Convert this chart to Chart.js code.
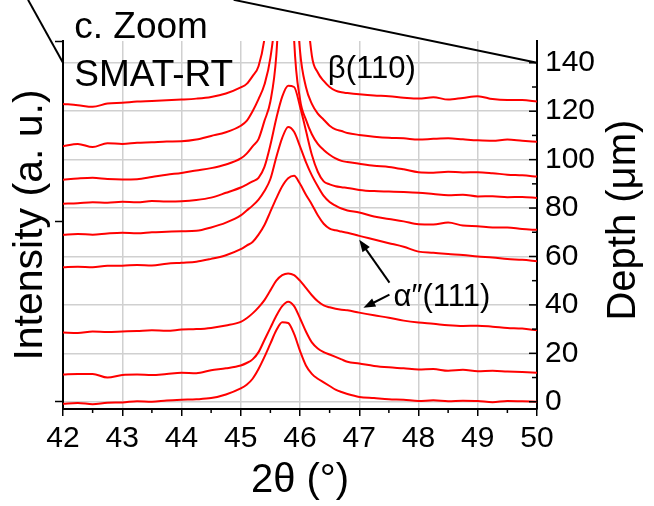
<!DOCTYPE html>
<html>
<head>
<meta charset="utf-8">
<script src="https://cdn.jsdelivr.net/npm/chart.js@4.4.1/dist/chart.umd.min.js"></script>
<style>
  body { margin: 0; background: #fff; }
  #wrap { width: 654px; height: 506px; position: relative; }
</style>
</head>
<body>
<div id="wrap"><canvas id="xrd"></canvas></div>
<script>
// 2theta positions (deg), finer around the peak
const twoTheta = [42, 42.25, 42.5, 42.75, 43, 43.25, 43.5, 43.75, 44, 44.25, 44.5, 44.75, 45,
    45.1, 45.2, 45.3, 45.4, 45.5, 45.6, 45.7, 45.8, 45.9, 46, 46.1, 46.2, 46.3, 46.4, 46.5, 46.6, 46.7, 46.8,
    47, 47.25, 47.5, 47.75, 48, 48.25, 48.5, 48.75, 49, 49.25, 49.5, 49.75, 50];

// scans stacked at their depth (um), bottom to top
const scan0 = [-0.8, -0.5, -1.0, -0.4, -0.3, 0.2, 0.0, 0.5, 0.8, 1.0, 1.5, 3.0, 5.5,
    7.0, 9.5, 13.5, 18.5, 24.0, 29.5, 32.8, 32.5, 28.0, 21.0, 15.0, 11.5, 9.5, 8.0, 6.5, 5.0, 4.0, 3.2,
    2.0, 1.5, 1.0, 0.8, 0.3, 0.6, 0.2, 0.4, 0.3, -0.2, 0.3, 0.2, 0.0];
const scan13 = [11.2, 11.5, 11.5, 10.0, 11.0, 11.2, 11.0, 11.5, 12.0, 11.8, 13.0, 13.8, 15.0,
    16.0, 17.5, 20.5, 25.5, 30.5, 35.5, 39.5, 41.3, 39.5, 34.5, 29.0, 24.5, 22.0, 20.5, 19.5, 18.5, 17.5, 16.5,
    15.8, 14.8, 14.2, 13.8, 13.3, 13.5, 12.8, 13.2, 12.6, 12.8, 12.5, 12.3, 12.0];
const scan30 = [28.6, 28.4, 29.0, 28.8, 29.0, 29.2, 29.5, 29.3, 29.8, 30.0, 30.5, 31.5, 33.0,
    34.5, 36.5, 39.0, 42.0, 46.0, 50.0, 52.3, 53.0, 52.3, 50.0, 47.0, 44.0, 41.5, 39.8, 39.0, 38.4, 38.0, 37.8,
    36.8, 35.7, 34.7, 33.5, 32.7, 32.2, 31.6, 31.3, 31.4, 31.0, 30.5, 30.2, 29.5];
const scan57 = [55.5, 55.8, 55.6, 56.2, 56.2, 56.5, 56.3, 57.0, 57.4, 57.8, 59.0, 60.5, 63.0,
    64.5, 66.0, 69.0, 73.0, 78.5, 84.0, 89.0, 92.3, 93.3, 90.0, 85.5, 81.5, 77.0, 73.5, 71.5, 70.8, 70.3, 69.8,
    68.5, 67.0, 65.5, 64.0, 62.0, 61.5, 61.0, 60.6, 60.0, 59.6, 59.0, 58.6, 58.0];
const scan70 = [69.0, 69.3, 69.0, 69.5, 69.8, 69.6, 70.0, 70.2, 70.4, 70.6, 72.0, 74.0, 77.0,
    79.0, 81.0, 83.5, 87.0, 92.0, 101.0, 109.0, 113.5, 111.5, 105.5, 99.0, 93.5, 89.0, 85.0, 82.5, 81.0, 79.8, 79.0,
    78.2, 76.5, 75.5, 74.5, 73.3, 73.2, 74.0, 72.8, 72.5, 72.0, 72.0, 71.3, 71.0];
const scan83 = [81.8, 82.0, 82.4, 82.2, 82.6, 82.4, 82.9, 82.7, 82.8, 83.3, 84.3, 86.3, 88.5,
    89.7, 91.0, 92.5, 97.0, 106.0, 117.0, 126.0, 130.5, 130.0, 122.0, 112.0, 102.0, 95.0, 91.0, 89.8, 89.0, 88.6, 88.3,
    87.5, 87.0, 86.8, 86.6, 86.3, 85.8, 85.3, 85.5, 84.8, 84.9, 84.5, 84.6, 84.2];
const scan92 = [91.7, 92.2, 92.5, 92.0, 91.8, 91.9, 92.8, 93.8, 94.5, 95.5, 96.5, 98.0, 100.5,
    102.5, 105.5, 108.5, 116.0, 124.0, 143.0, 190.0, 230.0, 150.0, 125.0, 116.5, 110.5, 106.5, 104.0, 102.0, 100.5, 99.5, 99.0,
    98.3, 97.5, 97.0, 96.0, 94.8, 94.6, 95.0, 94.7, 94.8, 94.4, 93.8, 93.5, 93.0];
const scan106 = [105.5, 106.5, 105.2, 106.8, 106.5, 107.0, 107.2, 107.5, 107.6, 108.3, 109.8, 111.3, 114.0,
    116.0, 120.0, 125.0, 131.0, 142.0, 165.0, 220.0, 260.0, 185.0, 145.0, 130.0, 123.0, 119.0, 116.5, 114.0, 112.5, 111.8, 111.0,
    110.2, 109.5, 109.0, 108.8, 108.3, 108.6, 108.8, 108.4, 108.0, 107.8, 108.3, 107.8, 107.4];
const scan123 = [123.0, 122.5, 121.8, 123.2, 123.5, 124.0, 124.2, 124.5, 124.8, 125.2, 125.9, 127.3, 129.8,
    131.3, 134.5, 138.6, 150.0, 175.0, 220.0, 280.0, 300.0, 280.0, 220.0, 170.0, 143.0, 136.0, 132.5, 130.0, 128.5, 127.8, 127.5,
    127.0, 126.5, 126.2, 125.6, 125.2, 125.8, 124.8, 125.5, 126.2, 125.0, 124.6, 124.6, 124.0];

const scans = [scan0, scan13, scan30, scan57, scan70, scan83, scan92, scan106, scan123];

const depthTicks = [0, 20, 40, 60, 80, 100, 120, 140];
const depthMinor = [10, 30, 50, 70, 90, 110, 130];
const intensityTicks = [0, 74.5, 149];
const thetaMinor = [42.5, 43.5, 44.5, 45.5, 46.5, 47.5, 48.5, 49.5];

const FONT = "'Liberation Sans', Arial, sans-serif";
Chart.defaults.font.family = FONT;
Chart.defaults.color = '#000';

// annotations, in data units
const notes = [
    { text: 'c. Zoom', x: 42.19, y: 150.4, size: 37 },
    { text: 'SMAT-RT', x: 42.19, y: 130.6, size: 37 },
    { text: 'β(110)', x: 46.47, y: 133.9, size: 31 },
    { text: 'α″(111)', x: 47.58, y: 39.7, size: 31 }
];
const arrows = [
    { from: [47.51, 49.2], to: [47.0, 66.9] },
    { from: [47.51, 44.2], to: [47.07, 38.8] }
];
const zoomLines = [
    { from: [41.41, 166], to: [42, 140] },
    { from: [44.88, 166], to: [50, 140] }
];

const decorations = {
    id: 'decorations',
    afterDraw(chart) {
        const ctx = chart.ctx;
        const xs = chart.scales.x, ys = chart.scales.y;
        const area = chart.chartArea;
        ctx.save();
        ctx.strokeStyle = '#000';
        ctx.fillStyle = '#000';
        ctx.lineWidth = 1.5;

        // minor ticks on 2theta axis (outward)
        thetaMinor.forEach(v => {
            const px = xs.getPixelForValue(v);
            ctx.beginPath();
            ctx.moveTo(px, area.bottom);
            ctx.lineTo(px, area.bottom + 4);
            ctx.stroke();
        });
        // depth axis ticks point inward
        depthTicks.forEach(v => {
            const py = ys.getPixelForValue(v);
            ctx.beginPath();
            ctx.moveTo(area.right, py);
            ctx.lineTo(area.right - 8, py);
            ctx.stroke();
        });
        depthMinor.forEach(v => {
            const py = ys.getPixelForValue(v);
            ctx.beginPath();
            ctx.moveTo(area.right, py);
            ctx.lineTo(area.right - 5, py);
            ctx.stroke();
        });

        // lines from the parent figure
        ctx.lineWidth = 2;
        zoomLines.forEach(l => {
            ctx.beginPath();
            ctx.moveTo(xs.getPixelForValue(l.from[0]), ys.getPixelForValue(l.from[1]));
            ctx.lineTo(xs.getPixelForValue(l.to[0]), ys.getPixelForValue(l.to[1]));
            ctx.stroke();
        });

        // arrows
        arrows.forEach(a => {
            const x0 = xs.getPixelForValue(a.from[0]), y0 = ys.getPixelForValue(a.from[1]);
            const x1 = xs.getPixelForValue(a.to[0]), y1 = ys.getPixelForValue(a.to[1]);
            const ang = Math.atan2(y1 - y0, x1 - x0);
            const len = 12, half = 4.5;
            ctx.beginPath();
            ctx.moveTo(x0, y0);
            ctx.lineTo(x1 - Math.cos(ang) * len * 0.8, y1 - Math.sin(ang) * len * 0.8);
            ctx.stroke();
            ctx.beginPath();
            ctx.moveTo(x1, y1);
            ctx.lineTo(x1 - Math.cos(ang) * len + Math.sin(ang) * half, y1 - Math.sin(ang) * len - Math.cos(ang) * half);
            ctx.lineTo(x1 - Math.cos(ang) * len - Math.sin(ang) * half, y1 - Math.sin(ang) * len + Math.cos(ang) * half);
            ctx.closePath();
            ctx.fill();
        });

        // text notes
        ctx.textAlign = 'left';
        ctx.textBaseline = 'alphabetic';
        notes.forEach(n => {
            ctx.font = n.size + 'px ' + FONT;
            ctx.fillText(n.text, xs.getPixelForValue(n.x), ys.getPixelForValue(n.y));
        });

        // right axis title reads bottom to top
        ctx.font = '40px ' + FONT;
        ctx.textAlign = 'center';
        ctx.translate(ys.right - 19, ys.getPixelForValue(75));
        ctx.rotate(-Math.PI / 2);
        ctx.fillText('Depth (μm)', 0, 0);
        ctx.restore();
    }
};

new Chart(document.getElementById('xrd'), {
    type: 'line',
    data: {
        datasets: scans.map((s, i) => ({
            label: 'scan ' + i,
            data: twoTheta.map((t, j) => ({ x: t, y: s[j] })),
            borderColor: '#ff0000',
            borderWidth: 2,
            pointRadius: 0,
            cubicInterpolationMode: 'monotone',
            yAxisID: 'y'
        }))
    },
    options: {
        responsive: true,
        maintainAspectRatio: false,
        animation: false,
        layout: { padding: { top: 41, left: 0, right: 0, bottom: 0 } },
        plugins: { legend: { display: false }, tooltip: { enabled: false } },
        scales: {
            x: {
                type: 'linear',
                position: 'bottom',
                min: 42,
                max: 50,
                afterFit: s => { s.height = 97; },
                ticks: { stepSize: 1, font: { size: 30 }, padding: 5, color: '#000' },
                grid: { color: '#d0d0d0', lineWidth: 1.5, tickColor: '#000', tickLength: 7, tickWidth: 1.5 },
                border: { color: '#000', width: 2 },
                title: { display: true, text: '2θ (°)', font: { size: 40 }, color: '#000', padding: { top: 0, bottom: 1 } }
            },
            y: {
                type: 'linear',
                position: 'right',
                min: -3,
                max: 149,
                afterBuildTicks: s => { s.ticks = depthTicks.map(v => ({ value: v })); },
                afterFit: s => { s.width = 117; },
                ticks: { font: { size: 30 }, padding: 8, color: '#000' },
                grid: { color: '#d0d0d0', lineWidth: 1.5, drawTicks: false },
                border: { color: '#000', width: 2 }
            },
            yInt: {
                type: 'linear',
                position: 'left',
                min: -3,
                max: 149,
                afterBuildTicks: s => { s.ticks = intensityTicks.map(v => ({ value: v })); },
                afterFit: s => { s.width = 63; },
                ticks: { display: false },
                grid: { drawOnChartArea: false, tickColor: '#000', tickLength: 8, tickWidth: 1.5 },
                border: { color: '#000', width: 2 },
                title: { display: true, text: 'Intensity (a. u.)', font: { size: 41 }, color: '#000', padding: { top: 6, bottom: 0 } }
            }
        }
    },
    plugins: [decorations]
});
</script>
</body>
</html>
